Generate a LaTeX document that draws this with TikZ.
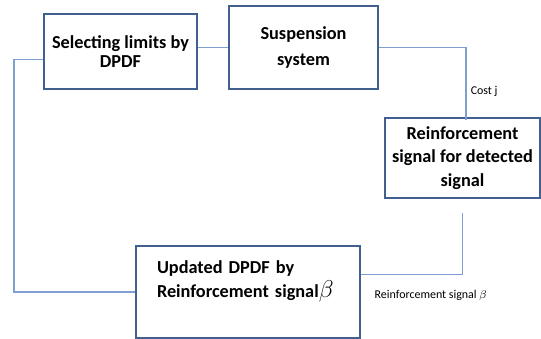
\documentclass[tikz,border=0pt]{standalone}
\usepackage{fontspec}
\setmainfont{Carlito}
\usetikzlibrary{positioning,calc}
\definecolor{boxline}{HTML}{41608F}
\definecolor{wire}{HTML}{7E9FCF}

\begin{document}
\begin{tikzpicture}[
  x=0.025cm, y=-0.025cm,
  box/.style={draw=boxline, line width=1.4pt, align=center, inner sep=2pt,
    font=\fontsize{13}{13}\bfseries\selectfont},
  lbl/.style={font=\fontsize{8.5}{10}\selectfont, inner sep=1pt},
  wirestyle/.style={draw=wire, line width=0.8pt}]
  \useasboundingbox (0,0) rectangle (541,338);
  \node[box, minimum width=153*0.025cm, minimum height=75*0.025cm] (sel) at (120.5,51.5)
    {Selecting limits by\\DPDF};
  \node[box, minimum width=149*0.025cm, minimum height=83*0.025cm] (susp) at (303.5,47.5)
    {Suspension\\[5.7pt]system};
  \node[box, minimum width=155*0.025cm, minimum height=80*0.025cm] (reinf) at (462.5,158)
    {Reinforcement\\[3.5pt]signal for detected\\[3.5pt]signal};
  \node[box, align=left, text width=182*0.025cm, inner xsep=21*0.025cm,
    minimum height=92*0.025cm] (upd) at (248,292)
    {Updated DPDF by\\[2pt]Reinforcement signal{\fontsize{17}{17}\selectfont$\beta$}\\[2pt]\strut};
  \coordinate (loop) at (14,0);
  \coordinate (rs) at ([yshift=-14*0.025cm]reinf.south);
  \node[lbl, anchor=west] (rsl) at (373,295) {Reinforcement signal $\beta$};
  % forward path
  \draw[wirestyle] ($(sel.north east)!0.45!(sel.south east)$) coordinate (s1)
    -- (s1 -| susp.west);
  \draw[wirestyle] ($(susp.north east)!0.5!(susp.south east)$)
    -| node[lbl, right=2pt, pos=0.8] (cost) {Cost j} ([xshift=3.5*0.025cm, yshift=-3*0.025cm]reinf.north);
  % feedback path
  \draw[wirestyle] (rs) |- ($(upd.north east)!0.31!(upd.south east)$);
  \draw[wirestyle] ($(sel.north west)!0.6!(sel.south west)$) coordinate (s2)
    -- (s2 -| loop) |- (upd.west);
\end{tikzpicture}
\end{document}
